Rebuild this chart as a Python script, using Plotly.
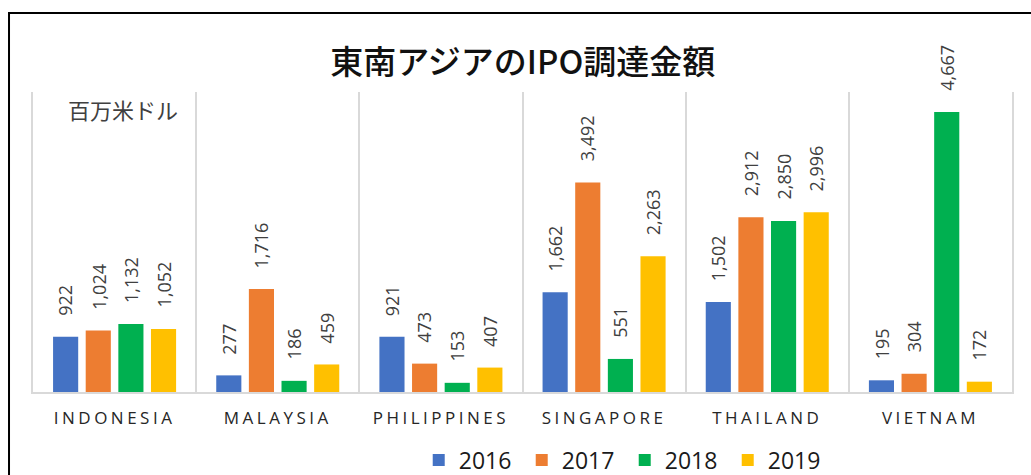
import plotly.graph_objects as go

categories = ["INDONESIA", "MALAYSIA", "PHILIPPINES", "SINGAPORE", "THAILAND", "VIETNAM"]
years = ["2016", "2017", "2018", "2019"]
v2016 = [922, 277, 921, 1662, 1502, 195]
v2017 = [1024, 1716, 473, 3492, 2912, 304]
v2018 = [1132, 186, 153, 551, 2850, 4667]
v2019 = [1052, 459, 407, 2263, 2996, 172]
colors = ["#4472C4", "#ED7D31", "#00B050", "#FFC000"]
title_text = "東南アジアのIPO調達金額"
unit_text = "百万米ドル"

series = [v2016, v2017, v2018, v2019]

BARGAP = 0.2
BARGROUPGAP = 0.23
LABEL_FONT = dict(family="Open Sans", size=18, color="#404040")

fig = go.Figure()
for name, vals, col in zip(years, series, colors):
    fig.add_trace(go.Bar(
        x=categories, y=vals, name=name,
        marker=dict(color=col, line=dict(width=0)),
        hoverinfo="x+y+name",
    ))

# data labels (rotated) placed above each bar via the axes' scales
n = len(series)
slot = (1 - BARGAP) / n
annotations = []
for j, vals in enumerate(series):
    off = -(1 - BARGAP) / 2 + (j + 0.5) * slot
    for i, v in enumerate(vals):
        annotations.append(dict(
            x=i + off, y=v, xref="x", yref="y",
            text=f"{v:,}", textangle=-90, showarrow=False,
            xanchor="center", yanchor="bottom", yshift=19,
            font=dict(LABEL_FONT),
        ))

annotations.append(dict(
    x=0.034, y=0.943, xref="paper", yref="paper",
    text=unit_text, showarrow=False, xanchor="left", yanchor="middle",
    font=dict(family="Noto Sans CJK JP", size=22, color="#404040"),
))

fig.update_layout(
    width=1031, height=475,
    margin=dict(l=33, r=19, t=92, b=83, autoexpand=False),
    paper_bgcolor="white", plot_bgcolor="white",
    barmode="group", bargap=BARGAP, bargroupgap=BARGROUPGAP,
    title=dict(
        text=title_text, x=0.507, xanchor="center", y=1 - 62 / 475, yanchor="middle",
        font=dict(family="Noto Sans CJK JP", size=33, color="#111111", weight=500),
    ),
    showlegend=True,
    legend=dict(
        orientation="h", x=0.394, xanchor="left", y=-0.227, yanchor="middle",
        font=dict(family="Open Sans", size=23, color="#1a1a1a"),
        bgcolor="rgba(0,0,0,0)", entrywidth=58,
    ),
    annotations=annotations,
    shapes=[dict(
        type="rect", xref="paper", yref="paper",
        x0=-0.0245, x1=1.06, y0=-0.45, y1=1.2633,
        line=dict(color="black", width=2), fillcolor="rgba(0,0,0,0)", layer="above",
    )],
)

fig.update_xaxes(
    type="category", range=[-0.5, len(categories) - 0.5],
    tickson="boundaries", ticks="", showgrid=True, gridcolor="#d9d9d9", gridwidth=2,
    showline=True, linecolor="#d9d9d9", linewidth=2, automargin=False,
    tickfont=dict(family="Open Sans", size=17, color="#262626"),
    ticklabelstandoff=10,
)
fig.update_yaxes(
    range=[0, 5000], showgrid=False, zeroline=False, showticklabels=False, ticks="",
    showline=True, mirror=True, linecolor="#d9d9d9", linewidth=2, automargin=False,
)

post = """
document.body.style.margin = '0';
var s = document.createElement('style');
s.innerHTML = 'body { margin: 0; } .xtick text { letter-spacing: 3.5px; }';
document.head.appendChild(s);
"""
fig.write_html("out.html", post_script=post, config={"displayModeBar": False})
